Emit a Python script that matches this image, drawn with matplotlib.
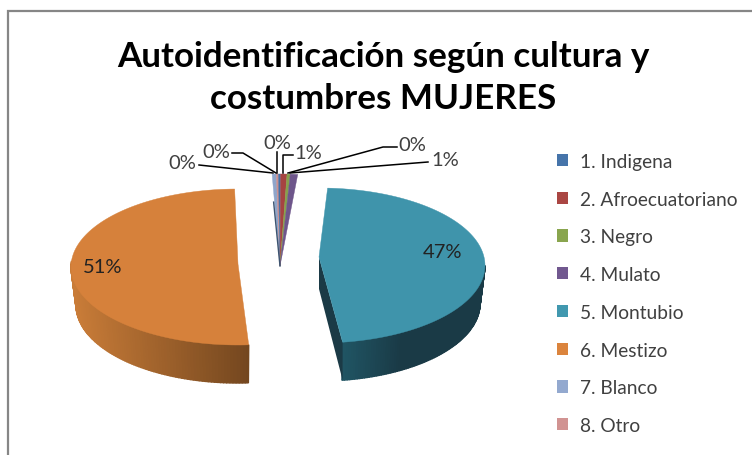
import numpy as np
import matplotlib
matplotlib.use('Agg')
import matplotlib.pyplot as plt
from matplotlib.colors import to_rgb
from matplotlib.patches import Patch

plt.rcParams['font.family'] = ['Lato', 'DejaVu Sans']

# datos
categorias = ['1. Indigena', '2. Afroecuatoriano', '3. Negro', '4. Mulato',
              '5. Montubio', '6. Mestizo', '7. Blanco', '8. Otro']
valores = [0.2, 0.6, 0.3, 0.7, 46.9, 50.7, 0.4, 0.2]
colores = ['#4674aa', '#aa4643', '#89a54e', '#71588f',
           '#4198af', '#db843d', '#93a9cf', '#d19392']

# forma de cada porcion: cx, cy, rx, ry, y del vertice, giro en grados
MONTUBIO = (319, 266.5, 166, 77.5, 258, 0)
MESTIZO = (238, 268, 167, 78, 265, 4.5)
PEQUENA = (280, 268, 170, 93, 267, 3)
INICIO = -3.5  # grados desde arriba, sentido horario
FONDO = 38

# etiquetas: texto centrado y su linea guia
etq_xy = {0: (277, 144), 1: (308, 154), 2: (412, 146), 3: (445, 161), 6: (182, 164), 7: (216, 153)}
guias = {0: [(277, 153), (277, 174)],
         1: [(293, 156), (283, 156), (283, 174)],
         2: [(397, 148), (383, 148), (288, 174)],
         3: [(428, 163), (290, 174)],
         6: [(199, 166), (273, 174)],
         7: [(232, 154), (243, 154), (276, 174)]}
etq_grande = {4: (443, 253), 5: (103, 268)}


def arco(geo, t0, t1, n=120):
    cx, cy, rx, ry = geo[:4]
    t = np.radians(np.linspace(t0, t1, n) + geo[5])
    return cx + rx * np.sin(t), cy - ry * np.cos(t)


def lateral(geo, t0, t1, c_izq, c_der, x_izq, x_der, n=90):
    # pared del cilindro en tiras con degradado segun x
    cx, cy, rx, ry = geo[:4]
    ts = np.radians(np.linspace(t0, t1, n + 1) + geo[5])
    c_izq, c_der = np.array(to_rgb(c_izq)), np.array(to_rgb(c_der))
    for a, b in zip(ts[:-1], ts[1:]):
        xs = [cx + rx * np.sin(a), cx + rx * np.sin(b),
              cx + 0.97 * rx * np.sin(b), cx + 0.97 * rx * np.sin(a)]
        ys = [cy - ry * np.cos(a), cy - ry * np.cos(b),
              cy + FONDO - ry * np.cos(b), cy + FONDO - ry * np.cos(a)]
        f = np.clip((np.mean(xs) - x_izq) / (x_der - x_izq), 0, 1)
        c = c_izq + (c_der - c_izq) * f
        ax.fill(xs, ys, color=c, lw=1, zorder=2)


fig = plt.figure(figsize=(7.52, 4.56), dpi=100)
ax = fig.add_axes([0, 0, 1, 1])
ax.set_xlim(0, 752)
ax.set_ylim(456, 0)
ax.axis('off')

# marco del grafico
ax.plot([8, 8, 752], [456, 12, 12], color='#868686', lw=1.6, solid_joinstyle='miter', zorder=1)

ax.text(383.5, 78, 'Autoidentificación según cultura y\ncostumbres MUJERES', ha='center', va='center',
        fontsize=25.2, fontweight='bold', color='black', linespacing=1.38)

angulos = np.cumsum([0] + valores) / sum(valores) * 360 + INICIO
for i in [6, 7, 0, 1, 2, 3, 4, 5]:
    geo = MONTUBIO if i == 4 else MESTIZO if i == 5 else PEQUENA
    t0, t1 = angulos[i], angulos[i + 1]
    if i == 4:
        lateral(geo, 90, t1, '#205665', '#1a3a46', 340, 400)
        xb, yb = arco(geo, t1, t1, 1)
        ax.fill([geo[0], xb[0], xb[0], geo[0]], [geo[4], yb[0], yb[0] + FONDO, geo[4] + 32],
                color='#1b3a46', lw=0, zorder=2)
    if i == 5:
        lateral(geo, t0, 270, '#c97c38', '#74471f', 75, 248)
    x, y = arco(geo, t0, t1)
    cara = np.array(to_rgb(colores[i])) * 0.975
    ax.fill(np.r_[geo[0], x], np.r_[geo[4], y], color=cara, lw=0.3, zorder=3)

# sombra fina a la izquierda de las porciones pequenas
x, y = arco(PEQUENA, angulos[6], angulos[6], 1)
ax.plot([x[0] + 1.5, PEQUENA[0]], [y[0] + 28, PEQUENA[4]], color='#3d5470', lw=1, zorder=4)

for i, xy in etq_xy.items():
    pct = valores[i] / sum(valores) * 100
    ax.text(xy[0], xy[1], f'{pct:.0f}%', ha='center', va='center', fontsize=14.5, color='#404040', zorder=6)
    g = np.array(guias[i])
    ax.plot(g[:, 0], g[:, 1], color='black', lw=1.1, zorder=5)
for i, xy in etq_grande.items():
    pct = valores[i] / sum(valores) * 100
    ax.text(xy[0], xy[1], f'{pct:.0f}%', ha='center', va='center', fontsize=14.5, color='#222222', zorder=6)

handles = [Patch(facecolor=c, edgecolor='none') for c in colores]
leg = ax.legend(handles, categorias, loc='upper left', bbox_to_anchor=(551 / 752, 1 - 148 / 456),
                frameon=False, fontsize=13.8, labelspacing=1.083, handlelength=0.6, handleheight=0.6,
                handletextpad=0.6, borderpad=0.3, borderaxespad=0)
for t in leg.get_texts():
    t.set_color('#404040')

plt.savefig('out.png', dpi=100)
